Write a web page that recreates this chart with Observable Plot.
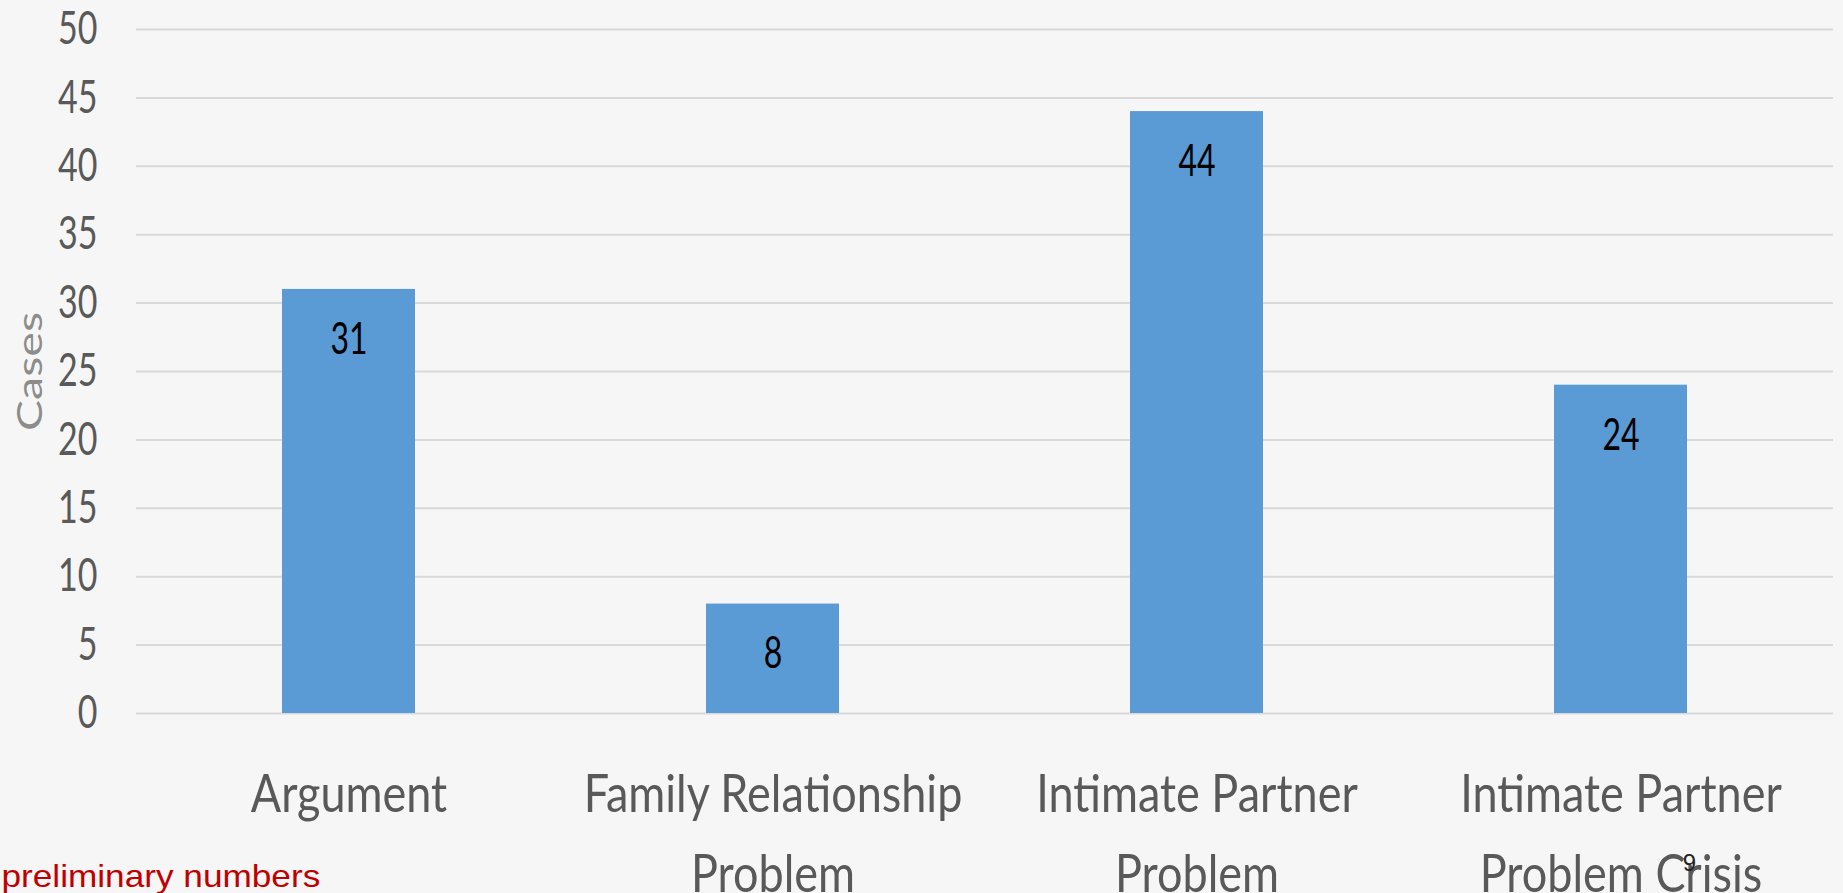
<!DOCTYPE html>
<html>
<head>
<meta charset="utf-8">
<script src="https://cdn.jsdelivr.net/npm/d3@7"></script>
<script src="https://cdn.jsdelivr.net/npm/@observablehq/plot@0.6"></script>
<style>
  html, body { margin: 0; padding: 0; background: #f6f6f6; overflow: hidden; }
  #chart svg { display: block; }
</style>
</head>
<body>
<div id="chart"></div>
<script>
// ---- data ----
const categories = ["Argument", "Family Relationship Problem", "Intimate Partner Problem", "Intimate Partner Problem Crisis"];
const cases = [31, 8, 44, 24];
const tickLabels = ["Argument", "Family Relationship\nProblem", "Intimate Partner\nProblem", "Intimate Partner\nProblem Crisis"];
const yTicks = [0, 5, 10, 15, 20, 25, 30, 35, 40, 45, 50];
const yLabel = "Cases";
const caption = "preliminary numbers";
const slideNumber = "9";

const data = categories.map((c, i) => ({category: c, cases: cases[i]}));

const chart = Plot.plot({
  width: 1843,
  height: 893,
  marginLeft: 136,
  marginRight: 10,
  marginTop: 29,
  marginBottom: 180,
  style: {background: "#f6f6f6", fontFamily: "Lato, 'Open Sans', sans-serif", overflow: "visible"},
  x: {domain: categories, paddingInner: 0.686, paddingOuter: 0.343, label: null},
  y: {domain: [0, 50], label: null},
  marks: [
    Plot.gridY(yTicks, {stroke: "#d9d9d9", strokeWidth: 2, strokeOpacity: 1}),
    Plot.barY(data, {x: "category", y: "cases", fill: "#5b9bd5"}),
    Plot.text(data, {x: "category", y: "cases", text: d => String(d.cases), dy: 50, fill: "#000", fontSize: 32}),
    Plot.axisY(yTicks, {tickSize: 0, tickPadding: 39, fontSize: 34, color: "#595959", label: null}),
    Plot.axisX({tickSize: 0, tickPadding: 42, fontSize: 45, lineHeight: 1.546, color: "#595959", label: null,
      tickFormat: c => tickLabels[categories.indexOf(c)]}),
    Plot.text([yLabel], {frameAnchor: "left", textAnchor: "middle", rotate: -90, dx: -106, fontSize: 35, fill: "#8c8c8c"}),
    Plot.text([caption], {frameAnchor: "bottom-left", dx: -135, dy: 173, textAnchor: "start",
      fontSize: 32, fill: "#c00000", fontFamily: "'Liberation Sans', Arial, sans-serif"}),
    Plot.text([slideNumber], {frameAnchor: "bottom-left", dx: 1553, dy: 157, textAnchor: "middle",
      fontSize: 24, fill: "#222", fontFamily: "'Liberation Sans', Arial, sans-serif"})
  ]
});

// Emulate the stretched text of the original picture (appending a scale to each text's own transform)
chart.querySelectorAll("text").forEach(t => {
  const s = t.textContent;
  if (s === slideNumber) return;
  const group = t.parentNode && t.parentNode.getAttribute ? (t.parentNode.getAttribute("aria-label") || "") : "";
  let sc;
  if (s === caption) sc = "scale(1.1,1)";
  else if (s === yLabel) sc = "scale(1.33,1)";
  else if (group.startsWith("x-axis")) sc = "scale(1,1.15)";
  else if (group.startsWith("y-axis")) sc = "scale(1,1.35)";
  else sc = "scale(1,1.4)";
  const T = t.getAttribute("transform") || "";
  t.setAttribute("transform", (T + " " + sc).trim());
});

document.getElementById("chart").appendChild(chart);
</script>
</body>
</html>
